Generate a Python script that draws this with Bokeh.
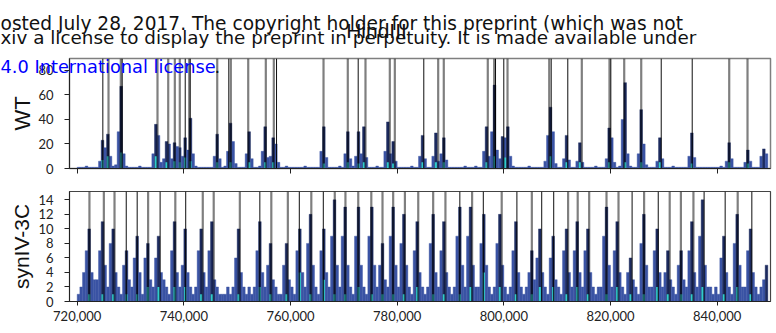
from bokeh.plotting import figure
from bokeh.layouts import column
from bokeh.models import FixedTicker, NumeralTickFormatter, ColumnDataSource, GridBox, Range1d
from bokeh.core.properties import value
from bokeh.embed import file_html
from bokeh.resources import INLINE

# ---------------- data ----------------
X_START = 718560
X_END = 850000
BIN_START = 720000
BIN_SIZE = 500

x_ticks = [720000, 740000, 760000, 780000, 800000, 820000, 840000]
wt_y_ticks = [0, 20, 40, 60, 80]
syn_y_ticks = [0, 2, 4, 6, 8, 10, 12, 14]
WT_YMAX = 89.7
SYN_YMAX = 15.15

# read counts, 500 bp bins from 720,000
wt_counts = [
    1, 1, 1, 2, 1, 1, 1, 1, 6, 23,
    17, 28, 10, 2, 3, 30, 67, 12, 2, 1,
    1, 1, 1, 2, 1, 1, 1, 1, 12, 36,
    27, 5, 8, 22, 20, 8, 21, 18, 17, 10,
    25, 15, 41, 12, 2, 1, 1, 1, 1, 1,
    1, 10, 28, 8, 1, 2, 14, 37, 22, 4,
    1, 1, 1, 12, 30, 8, 1, 1, 2, 14,
    34, 9, 10, 25, 20, 5, 1, 1, 2, 1,
    1, 1, 1, 1, 1, 2, 1, 1, 1, 1,
    1, 14, 34, 9, 1, 1, 1, 1, 2, 1,
    12, 30, 8, 2, 10, 30, 12, 34, 9, 1,
    1, 1, 2, 1, 1, 14, 38, 12, 22, 6,
    1, 1, 1, 1, 1, 2, 1, 1, 10, 27,
    8, 1, 1, 10, 29, 6, 12, 25, 7, 1,
    1, 1, 1, 1, 1, 2, 1, 1, 1, 2,
    1, 1, 14, 34, 10, 30, 68, 15, 8, 26,
    25, 34, 10, 2, 1, 1, 1, 1, 1, 2,
    1, 1, 1, 1, 1, 6, 27, 50, 30, 4,
    1, 1, 8, 27, 7, 1, 1, 6, 21, 5,
    1, 1, 1, 1, 2, 1, 1, 1, 8, 33,
    25, 5, 1, 2, 40, 70, 12, 2, 1, 1,
    12, 48, 20, 3, 1, 1, 1, 6, 25, 8,
    1, 1, 1, 2, 1, 1, 1, 1, 1, 10,
    29, 9, 1, 1, 1, 1, 1, 1, 1, 1,
    1, 2, 1, 6, 21, 8, 1, 1, 1, 1,
    5, 15, 6, 1, 1, 1, 10, 16, 12,
]

syn_counts = [
    1, 2, 4, 7, 10, 4, 3, 3, 7, 11,
    5, 2, 8, 10, 4, 2, 1, 5, 7, 3,
    2, 6, 9, 4, 1, 6, 8, 3, 2, 6,
    9, 4, 3, 2, 1, 7, 11, 4, 2, 5,
    10, 4, 2, 1, 2, 7, 10, 4, 2, 7,
    11, 3, 2, 1, 1, 1, 2, 1, 2, 6,
    10, 4, 2, 1, 2, 1, 2, 7, 11, 4,
    2, 5, 8, 3, 2, 1, 1, 5, 8, 3,
    2, 1, 7, 10, 4, 2, 8, 12, 5, 2,
    1, 7, 10, 4, 2, 9, 14, 5, 2, 9,
    13, 5, 2, 1, 9, 13, 5, 2, 1, 9,
    13, 5, 2, 5, 8, 3, 2, 9, 13, 5,
    2, 8, 12, 5, 2, 1, 7, 11, 4, 2,
    1, 2, 8, 12, 4, 2, 7, 11, 4, 2,
    1, 2, 9, 13, 5, 2, 9, 13, 5, 2,
    2, 8, 12, 5, 2, 1, 2, 8, 12, 5,
    2, 1, 2, 7, 11, 4, 2, 1, 2, 4,
    7, 3, 6, 10, 4, 2, 1, 6, 9, 3,
    2, 1, 7, 10, 4, 2, 7, 11, 4, 2,
    7, 10, 4, 2, 1, 2, 2, 9, 13, 5,
    2, 7, 11, 4, 2, 1, 4, 6, 3, 2,
    1, 8, 12, 5, 2, 2, 7, 10, 4, 2,
    4, 7, 3, 2, 1, 5, 7, 3, 2, 7,
    11, 4, 2, 9, 14, 5, 2, 2, 1, 2,
    1, 6, 9, 4, 2, 1, 8, 12, 5, 2,
    2, 7, 10, 4, 2, 1, 2, 3, 5,
]

wt_cyan_bins = [9, 11, 16, 29, 33, 36, 38, 40, 42, 52, 57, 64, 70, 73, 92, 101, 105, 107,
                116, 118, 129, 134, 137, 153, 156, 160, 177, 183, 188, 199, 205, 211, 218,
                230, 244, 251]
wt_cyan_vals = [7, 10, 13, 10, 5, 6, 5, 9, 6, 5, 5, 5, 5, 5, 4, 5, 4, 5,
                5, 4, 5, 5, 5, 5, 10, 9, 10, 5, 5, 5, 5, 5, 5,
                4, 5, 4]

syn_cyan_bins = [4, 9, 13, 18, 22, 26, 30, 36, 40, 46, 50, 60, 68, 72, 78, 83, 87, 92, 96,
                 100, 105, 110, 114, 118, 122, 127, 133, 137, 143, 147, 152, 158, 164, 170,
                 173, 178, 183, 187, 191, 198, 202, 207, 212, 217, 221, 226, 230, 234, 242,
                 247, 252]
syn_cyan_vals = [1, 1, 1, 1, 1, 2, 2, 2, 2, 1, 1, 1, 2, 1, 1, 4, 1, 3, 1,
                 1, 2, 1, 1, 1, 1, 2, 1, 1, 1, 2, 4, 2, 1, 1,
                 2, 2, 1, 2, 1, 1, 2, 1, 1, 2, 1, 1, 1, 2, 1,
                 2, 1]

wt_sites_grey = [725875, 728180, 735060, 737070, 738310, 739240, 741010, 746260, 748810,
                 752070, 755370, 756870, 766190, 770740, 774060, 778620, 779560, 787690,
                 788740, 796990, 798190, 800690, 808510, 814620, 819810, 822570, 825760,
                 842260, 845690]
wt_sites_black = [724810, 728440, 740260, 741190, 748430, 757380, 772690, 784990, 798440,
                  799990, 808880, 811990, 820060, 829510, 835320]

syn_sites_grey = [722300, 725000, 727000, 733300, 738400, 743550, 745600, 750500, 756400,
                  759500, 763900, 768300, 770300, 772700, 775150, 777250, 779250, 781450,
                  783950, 786750, 789050, 794050, 799600, 805250, 812050, 813850, 816000,
                  819250, 821500, 826300, 831100, 833200, 835550, 843850]
syn_sites_black = [729200, 731250, 735550, 740350, 754250, 761650, 766150, 791750, 796150,
                   802450, 807100, 809350, 824050, 828950, 837550, 841500, 846500]

title_text = "HindIII"
wm_line1 = "osted July 28, 2017. The copyright holder for this preprint (which was not"
wm_line2 = "xiv a license to display the preprint in perpetuity. It is made available under"
wm_link = "4.0 International license"

# ---------------- style ----------------
BLUE = "#3a53a4"
NAVY = "#1c2a5e"
CYAN = "#30cbcc"
TICK_FONT = "Lato"
AX_FONT = "Liberation Sans"
WM_FONT = "DejaVu Sans"
W = 776


def bar_source(vals, thr):
    left, right, top, col = [], [], [], []
    n = len(vals)
    for i, v in enumerate(vals):
        lv = vals[i - 1] if i > 0 else 0
        rv = vals[i + 1] if i < n - 1 else 0
        left.append(BIN_START + i * BIN_SIZE)
        right.append(BIN_START + (i + 1) * BIN_SIZE)
        top.append(v)
        col.append(NAVY if (v >= thr and v > lv and v >= rv) else BLUE)
    return ColumnDataSource(dict(left=left, right=right, top=top, col=col))


def cyan_source(bins, vals):
    return ColumnDataSource(dict(
        left=[BIN_START + b * BIN_SIZE + 50 for b in bins],
        right=[BIN_START + b * BIN_SIZE + 450 for b in bins],
        top=vals))


def style(p, yticks, ylabel, label_size, label_standoff):
    p.xgrid.visible = False
    p.ygrid.visible = False
    p.background_fill_color = "white"
    p.border_fill_color = "white"
    p.xaxis.ticker = FixedTicker(ticks=x_ticks)
    p.xaxis.formatter = NumeralTickFormatter(format="0,0")
    p.yaxis.ticker = FixedTicker(ticks=yticks)
    for ax in (p.xaxis, p.yaxis):
        ax.minor_tick_line_color = None
        ax.major_tick_in = 0
        ax.axis_line_color = "#222222"
        ax.major_tick_line_color = "#222222"
        ax.major_label_text_font = TICK_FONT
        ax.major_label_text_font_size = "13px"
        ax.major_label_text_color = "#222222"
    p.yaxis.major_tick_out = 5
    p.yaxis.major_label_standoff = 11
    p.yaxis.axis_label = ylabel
    p.yaxis.axis_label_text_font = AX_FONT
    p.yaxis.axis_label_text_font_size = label_size
    p.yaxis.axis_label_text_font_style = "normal"
    p.yaxis.axis_label_text_color = "#111111"
    p.yaxis.axis_label_standoff = label_standoff


def draw(p, vals, thr, cbins, cvals, grey, black, ymax):
    p.quad(left="left", right="right", bottom=0, top="top", source=bar_source(vals, thr),
           fill_color="col", line_color="col", line_width=0.4)
    p.quad(left="left", right="right", bottom=0, top="top", source=cyan_source(cbins, cvals),
           fill_color=CYAN, line_color=None)
    p.segment(x0=grey, y0=[0] * len(grey), x1=grey, y1=[ymax] * len(grey),
              line_color="black", line_alpha=0.5, line_width=2.2)
    p.segment(x0=black, y0=[0] * len(black), x1=black, y1=[ymax] * len(black),
              line_color="black", line_alpha=0.95, line_width=1)


# ---------------- top panel (WT) ----------------
p1 = figure(width=W, height=180, x_range=(X_START, X_END), y_range=(0, WT_YMAX),
            output_backend="svg", toolbar_location=None,
            min_border_left=69, min_border_right=6, min_border_top=58, min_border_bottom=12)
style(p1, wt_y_ticks, "WT", "22px", 0)
p1.xaxis.major_tick_out = 5
p1.xaxis.major_label_text_color = None
p1.outline_line_color = "#7f7f7f"
p1.outline_line_width = 1.5
draw(p1, wt_counts, 10, wt_cyan_bins, wt_cyan_vals, wt_sites_grey, wt_sites_black, WT_YMAX)

# ---------------- bottom panel (synIV-3C) ----------------
p2 = figure(width=W, height=153, x_range=p1.x_range, y_range=(0, SYN_YMAX),
            output_backend="svg", toolbar_location=None,
            min_border_left=69, min_border_right=5, min_border_top=11, min_border_bottom=32)
style(p2, syn_y_ticks, "synIV-3C", "21px", 2)
p2.xaxis.major_tick_out = 4
p2.xaxis.major_label_standoff = 5
p2.outline_line_color = "#444444"
p2.outline_line_width = 1.2
draw(p2, syn_counts, 5, syn_cyan_bins, syn_cyan_vals, syn_sites_grey, syn_sites_black, SYN_YMAX)

# ---------------- transparent overlay for the page texts ----------------
ov = figure(width=W, height=180, x_range=Range1d(0, W), y_range=Range1d(180, 0),
            output_backend="svg", toolbar_location=None,
            x_axis_type=None, y_axis_type=None,
            min_border_left=0, min_border_right=0, min_border_top=0, min_border_bottom=0)
ov.background_fill_color = None
ov.border_fill_color = None
ov.outline_line_color = None
ov.xgrid.visible = False
ov.ygrid.visible = False

ov.text(x=[0], y=[22.7], text=[wm_line1], text_align="left",
        text_baseline="alphabetic", text_font=value(WM_FONT),
        text_font_size=value("18.6px"), text_color="#111111")
ov.text(x=[0], y=[37.3], text=[wm_line2], text_align="left",
        text_baseline="alphabetic", text_font=value(WM_FONT),
        text_font_size=value("18.35px"), text_color="#111111")
ov.text(x=[0], y=[65.6], text=[wm_link], text_align="left",
        text_baseline="alphabetic", text_font=value(WM_FONT),
        text_font_size=value("17.8px"), text_color="#0000ff")
ov.text(x=[214], y=[65.6], text=["."], text_align="left",
        text_baseline="alphabetic", text_font=value(WM_FONT),
        text_font_size=value("17.8px"), text_color="#111111")
ov.text(x=[376], y=[30], text=[title_text], text_align="center",
        text_baseline="alphabetic", text_font=value(AX_FONT),
        text_font_size=value("21px"), text_color="#111111")

ov_box = column(ov, spacing=0)
grid = GridBox(children=[(p1, 0, 0), (p2, 1, 0), (ov_box, 0, 0)], spacing=0)
open("out.html", "w").write(file_html(grid, INLINE))
